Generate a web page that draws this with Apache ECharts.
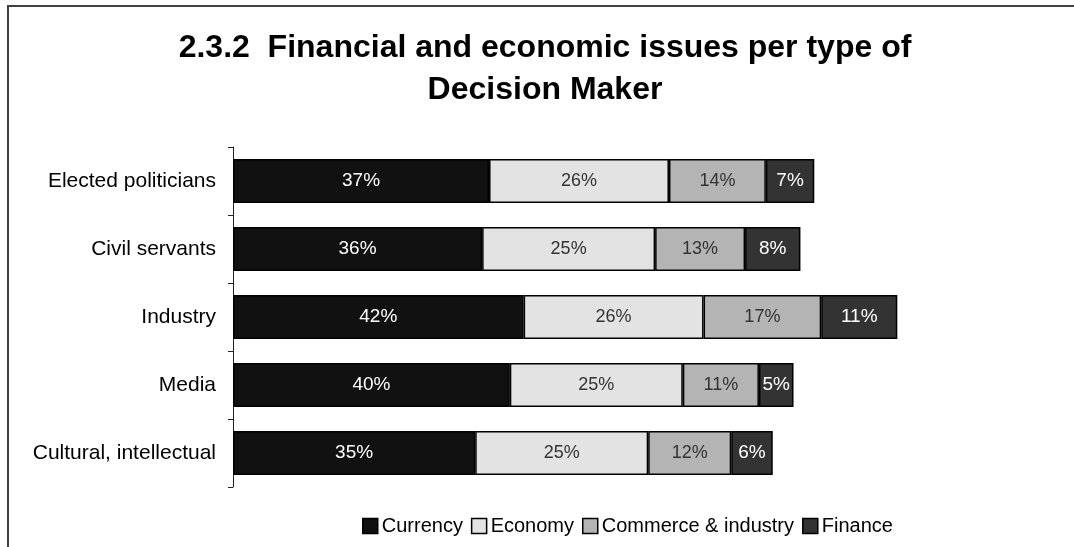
<!DOCTYPE html>
<html>
<head>
<meta charset="utf-8">
<script src="https://cdn.jsdelivr.net/npm/echarts@6/dist/echarts.min.js"></script>
<style>
  html, body { margin: 0; padding: 0; background: #fff; }
  #chart { width: 1074px; height: 547px; }
</style>
</head>
<body>
<div id="chart"></div>
<script>
// Decision-maker groups (top to bottom)
const categories = ['Elected politicians', 'Civil servants', 'Industry', 'Media', 'Cultural, intellectual'];

// Share of mentions per issue, in percent
const currency = [37, 36, 42, 40, 35];
const economy  = [26, 25, 26, 25, 25];
const commerce = [14, 13, 17, 11, 12];
const finance  = [7, 8, 11, 5, 6];

const seriesNames = ['Currency', 'Economy', 'Commerce & industry', 'Finance'];
const seriesData = [currency, economy, commerce, finance];
const fills = ['#111111', '#e3e3e3', '#b4b4b4', '#333333'];
const labelColors = ['#ffffff', '#333333', '#333333', '#ffffff'];
const labelSizes = [19, 18, 18, 19];

const FONT = '"Liberation Sans", Arial, sans-serif';

const chart = echarts.init(document.getElementById('chart'), null, { renderer: 'canvas' });

chart.setOption({
  backgroundColor: '#ffffff',
  animation: false,
  title: {
    text: '2.3.2  Financial and economic issues per type of\nDecision Maker',
    left: 540,
    textAlign: 'center',
    top: 22,
    textStyle: {
      fontFamily: FONT,
      fontWeight: 'bold',
      fontSize: 32,
      lineHeight: 42,
      color: '#000'
    }
  },
  legend: {
    left: 357,
    top: 511,
    itemWidth: 15,
    itemHeight: 15,
    itemGap: 8,
    icon: 'rect',
    textStyle: { fontFamily: FONT, fontSize: 20, color: '#000', padding: [0, 0, 0, -1] },
    data: seriesNames.map((n, i) => ({
      name: n,
      itemStyle: { color: fills[i], borderColor: '#000', borderWidth: 1.5 }
    }))
  },
  grid: { left: 233, top: 147, width: 692, height: 340, containLabel: false },
  xAxis: {
    type: 'value',
    min: 0,
    max: 100,
    show: false
  },
  yAxis: {
    type: 'category',
    inverse: true,
    data: categories,
    axisLine: { show: true, lineStyle: { color: '#222', width: 1 } },
    axisTick: { show: true, length: 5, lineStyle: { color: '#222', width: 1 } },
    axisLabel: { fontFamily: FONT, fontSize: 21, color: '#000', margin: 17 }
  },
  series: seriesData.map((vals, i) => ({
    name: seriesNames[i],
    type: 'bar',
    stack: 'total',
    barWidth: 44,
    data: vals,
    itemStyle: { color: fills[i], borderColor: '#000', borderWidth: 1.5 },
    label: {
      show: true,
      position: 'inside',
      formatter: '{c}%',
      fontFamily: FONT,
      fontSize: labelSizes[i],
      color: labelColors[i]
    }
  })),
  graphic: [{
    type: 'rect',
    shape: { x: 8, y: 6, width: 1200, height: 1000 },
    style: { fill: 'none', stroke: '#404040', lineWidth: 2 },
    silent: true,
    z: 100
  }]
});
</script>
</body>
</html>
